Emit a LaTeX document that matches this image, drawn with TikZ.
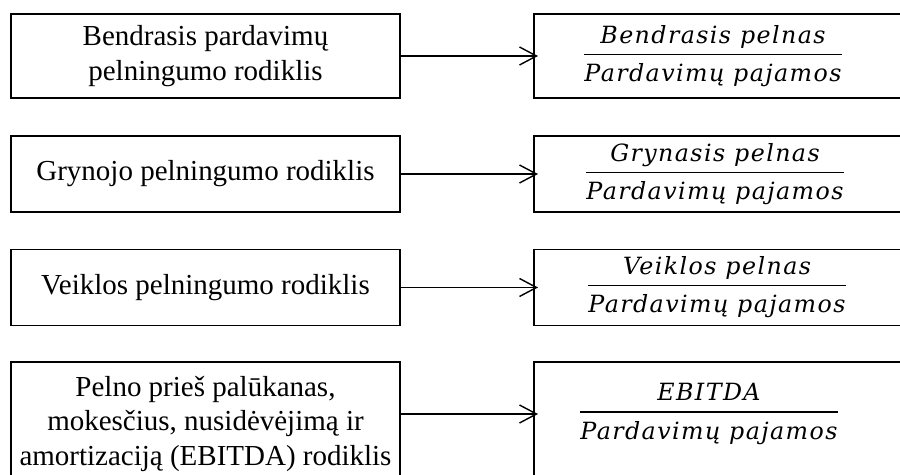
\documentclass[tikz,border=0pt]{standalone}
\usepackage{amsmath}
\usepackage{fontspec}
\setmainfont{Liberation Serif}
\newfontfamily\fracfont{DejaVu Serif}[LetterSpace=6]
\usetikzlibrary{arrows.meta}
\newcommand{\santykis}[2]{\fontsize{13.5}{16}\selectfont$\displaystyle\genfrac{}{}{1pt}{}{\hbox{\fracfont\itshape #1\rule[-3pt]{0pt}{0pt}}}{\hbox{\fracfont\itshape #2\rule{0pt}{12pt}}}$}
\begin{document}
\begin{tikzpicture}[x=0.02cm,y=-0.02cm]
        \useasboundingbox (0,0) rectangle (900,475);
        \clip (0,0) rectangle (900,475);
        \begin{scope}[every node/.style={draw,line width=0.9pt,minimum width=7.78cm,align=center,font=\fontsize{16.5}{19.8}\selectfont}]
        \node[minimum height=1.68cm] (l1) at (205.5,56) {Bendrasis pardavimų\\pelningumo rodiklis};
        \node[minimum height=1.52cm] (l2) at (205.5,174) {Grynojo pelningumo rodiklis};
        \node[minimum height=1.52cm] (l3) at (205.5,287.5) {Veiklos pelningumo rodiklis};
        \node[minimum height=2.48cm] (l4) at (205.5,424) {Pelno prieš palūkanas,\\mokesčius, nusidėvėjimą ir\\amortizaciją (EBITDA) rodiklis};
        \end{scope}
        \begin{scope}[every node/.style={draw,line width=0.9pt,minimum width=8.6cm,anchor=west}]
        \node[minimum height=1.68cm] (r1) at (533,56) {};
        \node[minimum height=1.52cm] (r2) at (533,174) {};
        \node[minimum height=1.52cm] (r3) at (533,287.5) {};
        \node[minimum height=2.8cm] (r4) at (533,432) {};
        \end{scope}
        \begin{scope}[every node/.style={inner sep=0pt}]
        \node (f1) at (713,56) {\santykis{Bendrasis pelnas}{Pardavimų pajamos}};
        \node (f2) at (715,174) {\santykis{Grynasis pelnas}{Pardavimų pajamos}};
        \node (f3) at (717,287) {\santykis{Veiklos pelnas}{Pardavimų pajamos}};
        \node (f4) at (709,414) {\santykis{EBITDA}{Pardavimų pajamos}};
        \end{scope}
        \begin{scope}[every edge/.style={draw=black,line width=0.8pt,shorten >=-1mm,-{Straight Barb[length=3.4mm,width=3.6mm]}}]
        \path (l1) edge (r1)
              (l2) edge (r2)
              (l3) edge (r3)
              (l4.east |- f4) edge (r4.west |- f4);
        \end{scope}
\end{tikzpicture}
\end{document}
